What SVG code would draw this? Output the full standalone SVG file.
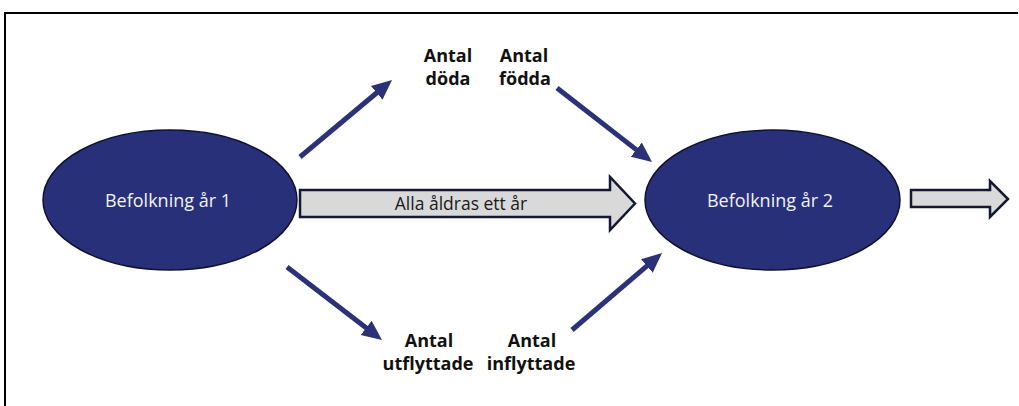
<svg xmlns="http://www.w3.org/2000/svg" width="1019" height="406" viewBox="0 0 1019 406">
  <style>
    .node { fill: #28307a; stroke: #10132e; stroke-width: 1.5; }
    .ntext { font-family: "Open Sans", "Liberation Sans", sans-serif; font-size: 18px; fill: #f2f2f7; text-anchor: middle; }
    .lbl { font-family: "Open Sans", "Liberation Sans", sans-serif; font-size: 18px; font-weight: bold; fill: #111111; text-anchor: middle; }
    .flow { fill: #d9d9d9; stroke: #141833; stroke-width: 2.5; stroke-linejoin: miter; }
    .ftext { font-family: "Open Sans", "Liberation Sans", sans-serif; font-size: 17.5px; fill: #1a1a1a; text-anchor: middle; }
    .conn { stroke: #2b3278; stroke-width: 5; fill: none; marker-end: url(#head); }
  </style>
  <defs>
    <marker id="head" markerUnits="userSpaceOnUse" markerWidth="22" markerHeight="22" viewBox="0 -10 22 20" refX="6" refY="0" orient="auto">
      <path d="M0,-9 L20,0 L0,9 z" fill="#2b3278"/>
    </marker>
  </defs>
  <rect width="1019" height="406" fill="#ffffff"/>
  <path d="M5,406 V13 H1018" fill="none" stroke="#000000" stroke-width="2"/>

  <g id="connectors">
    <line class="conn" x1="300" y1="157" x2="381.3" y2="89"/>
    <line class="conn" x1="557" y1="88" x2="641" y2="153.4"/>
    <line class="conn" x1="287" y1="267" x2="370.9" y2="331.5"/>
    <line class="conn" x1="572" y1="330" x2="651.4" y2="262.1"/>
    <g id="flow-main">
      <polygon class="flow" points="300,190 610,190 610,177 635,203.5 610,230 610,217 300,217"/>
      <text class="ftext" x="461" y="210">Alla åldras ett år</text>
    </g>
    <polygon id="flow-next" class="flow" points="911,190 990,190 990,181 1008,199 990,217 990,207 911,207"/>
  </g>

  <g id="pop1">
    <ellipse class="node" cx="170" cy="200" rx="127" ry="70"/>
    <text class="ntext" x="168" y="207">Befolkning år 1</text>
  </g>
  <g id="pop2">
    <ellipse class="node" cx="772.5" cy="200" rx="127.5" ry="70"/>
    <text class="ntext" x="770" y="207">Befolkning år 2</text>
  </g>

  <g id="doda">
    <text class="lbl" x="448" y="61.5">Antal</text>
    <text class="lbl" x="448" y="85">döda</text>
  </g>
  <g id="fodda">
    <text class="lbl" x="524" y="61.5">Antal</text>
    <text class="lbl" x="525" y="85">födda</text>
  </g>
  <g id="utflyttade">
    <text class="lbl" x="429" y="346.5">Antal</text>
    <text class="lbl" x="428" y="370">utflyttade</text>
  </g>
  <g id="inflyttade">
    <text class="lbl" x="532" y="346.5">Antal</text>
    <text class="lbl" x="531" y="370">inflyttade</text>
  </g>
</svg>
